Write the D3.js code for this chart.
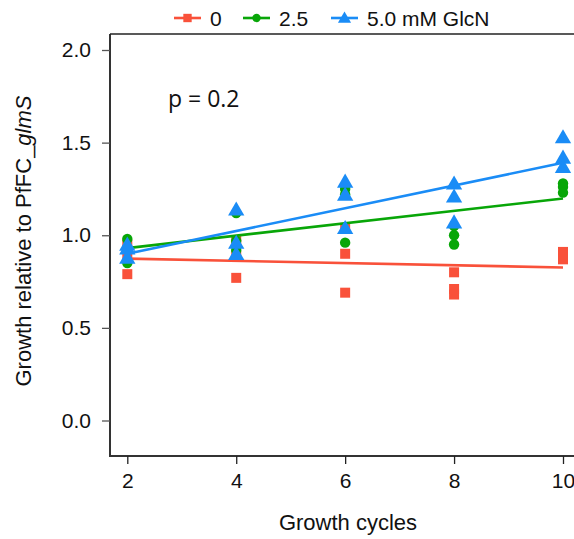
<!DOCTYPE html>
<html>
<head>
<meta charset="utf-8">
<script src="https://cdn.jsdelivr.net/npm/d3@7"></script>
<style>
  html, body { margin: 0; padding: 0; background: #fff; }
  svg { display: block; }
  text { font-family: "Liberation Sans", Arial, sans-serif; fill: #111; }
</style>
</head>
<body>
<svg id="chart" width="574" height="539"></svg>
<script>
// Growth cycles sampled
const cycles = [2, 4, 6, 8, 10];

// Replicate growth values per cycle, one list per GlcN concentration
const growth0   = [[0.95, 0.89, 0.79], [0.97, 0.89, 0.77], [1.04, 0.90, 0.69], [0.80, 0.71, 0.68], [0.91, 0.89, 0.87]];
const growth2_5 = [[0.98, 0.93, 0.85], [1.12, 0.97, 0.92], [1.25, 1.22, 0.96], [1.05, 1.00, 0.95], [1.28, 1.26, 1.23]];
const growth5_0 = [[0.95, 0.93, 0.88], [1.14, 0.96, 0.90], [1.29, 1.22, 1.04], [1.28, 1.21, 1.07], [1.53, 1.42, 1.37]];

const seriesNames = ["0", "2.5", "5.0 mM GlcN"];
const seriesColors = ["#F9513A", "#08A608", "#1A8CF6"];
const seriesShapes = [d3.symbolSquare, d3.symbolCircle, d3.symbolTriangle];
const seriesValues = [growth0, growth2_5, growth5_0];

const xTicks = [2, 4, 6, 8, 10];
const yTicks = [0.0, 0.5, 1.0, 1.5, 2.0];
const pLabel = "p = 0.2";

const svg = d3.select("#chart");

const x = d3.scaleLinear().domain([2, 10]).range([127.3, 563]);
const y = d3.scaleLinear().domain([0, 2]).range([420.5, 50]);

const axisColor = "#333";

// Frame lines
svg.append("line").attr("x1", 110).attr("x2", 110).attr("y1", 34).attr("y2", 457)
  .attr("stroke", axisColor).attr("stroke-width", 2);
svg.append("line").attr("x1", 109).attr("x2", 574).attr("y1", 456).attr("y2", 456)
  .attr("stroke", axisColor).attr("stroke-width", 2);
svg.append("line").attr("x1", 110).attr("x2", 574).attr("y1", 34).attr("y2", 34)
  .attr("stroke", "#222").attr("stroke-width", 1.3);

// X axis
const gx = svg.append("g").attr("transform", "translate(0,456)")
  .call(d3.axisBottom(x).tickValues(xTicks).tickFormat(d3.format("d")).tickSize(8).tickPadding(9));
gx.select(".domain").remove();
gx.selectAll(".tick line").attr("stroke", "#222").attr("stroke-width", 1.3);
gx.selectAll(".tick text").attr("font-size", 21).attr("fill", "#111");

// Y axis
const gy = svg.append("g").attr("transform", "translate(110,0)")
  .call(d3.axisLeft(y).tickValues(yTicks).tickFormat(d3.format(".1f")).tickSize(8).tickPadding(11));
gy.select(".domain").remove();
gy.selectAll(".tick line").attr("stroke", "#555").attr("stroke-width", 1.3);
gy.selectAll(".tick text").attr("font-size", 21).attr("fill", "#111");

// Axis titles
svg.append("text").attr("x", 348).attr("y", 530).attr("text-anchor", "middle")
  .attr("font-size", 22).text("Growth cycles");

const yTitle = svg.append("text").attr("transform", "translate(31,241) rotate(-90)")
  .attr("text-anchor", "middle").attr("font-size", 22);
yTitle.append("tspan").text("Growth relative to PfFC_");
yTitle.append("tspan").attr("font-style", "italic").text("glmS");

// Least-squares line through every replicate
function fit(values) {
  const pts = [];
  values.forEach((reps, i) => reps.forEach(v => pts.push([cycles[i], v])));
  const mx = d3.mean(pts, p => p[0]), my = d3.mean(pts, p => p[1]);
  const sxy = d3.sum(pts, p => (p[0] - mx) * (p[1] - my));
  const sxx = d3.sum(pts, p => (p[0] - mx) ** 2);
  const b = sxy / sxx, a = my - b * mx;
  return xv => a + b * xv;
}

const symSizes = [100, 85, 115];

seriesValues.forEach((values, s) => {
  const pts = [];
  values.forEach((reps, i) => reps.forEach(v => pts.push({ c: cycles[i], v })));
  const g = svg.append("g");
  g.selectAll("path.pt").data(pts).join("path").attr("class", "pt")
    .attr("d", d3.symbol(seriesShapes[s], symSizes[s]))
    .attr("transform", d => `translate(${x(d.c)},${y(d.v) + (s === 2 ? 1.5 : 0)})`)
    .attr("fill", seriesColors[s]);
  const f = fit(values);
  const ends = [cycles[0], cycles[cycles.length - 1]];
  g.append("path")
    .attr("d", d3.line().x(d => x(d)).y(d => y(f(d)))(ends))
    .attr("stroke", seriesColors[s]).attr("stroke-width", 2.6).attr("fill", "none");
});

// Legend
const legendX = [174, 243, 331];
seriesNames.forEach((name, s) => {
  const lg = svg.append("g").attr("transform", `translate(${legendX[s]},18)`);
  lg.append("line").attr("x1", 0).attr("x2", 27).attr("y1", 0).attr("y2", 0)
    .attr("stroke", seriesColors[s]).attr("stroke-width", 2.6);
  lg.append("path").attr("d", d3.symbol(seriesShapes[s], [70, 55, 75][s]))
    .attr("transform", `translate(13.5,${s === 2 ? 1 : 0})`).attr("fill", seriesColors[s]);
  lg.append("text").attr("x", 36).attr("y", 8).attr("font-size", 21).text(name);
});

// Test statistic
svg.append("text").attr("x", 168).attr("y", 107)
  .style("font-family", "'Open Sans', sans-serif").style("font-size", "23px").text(pLabel);
</script>
</body>
</html>
